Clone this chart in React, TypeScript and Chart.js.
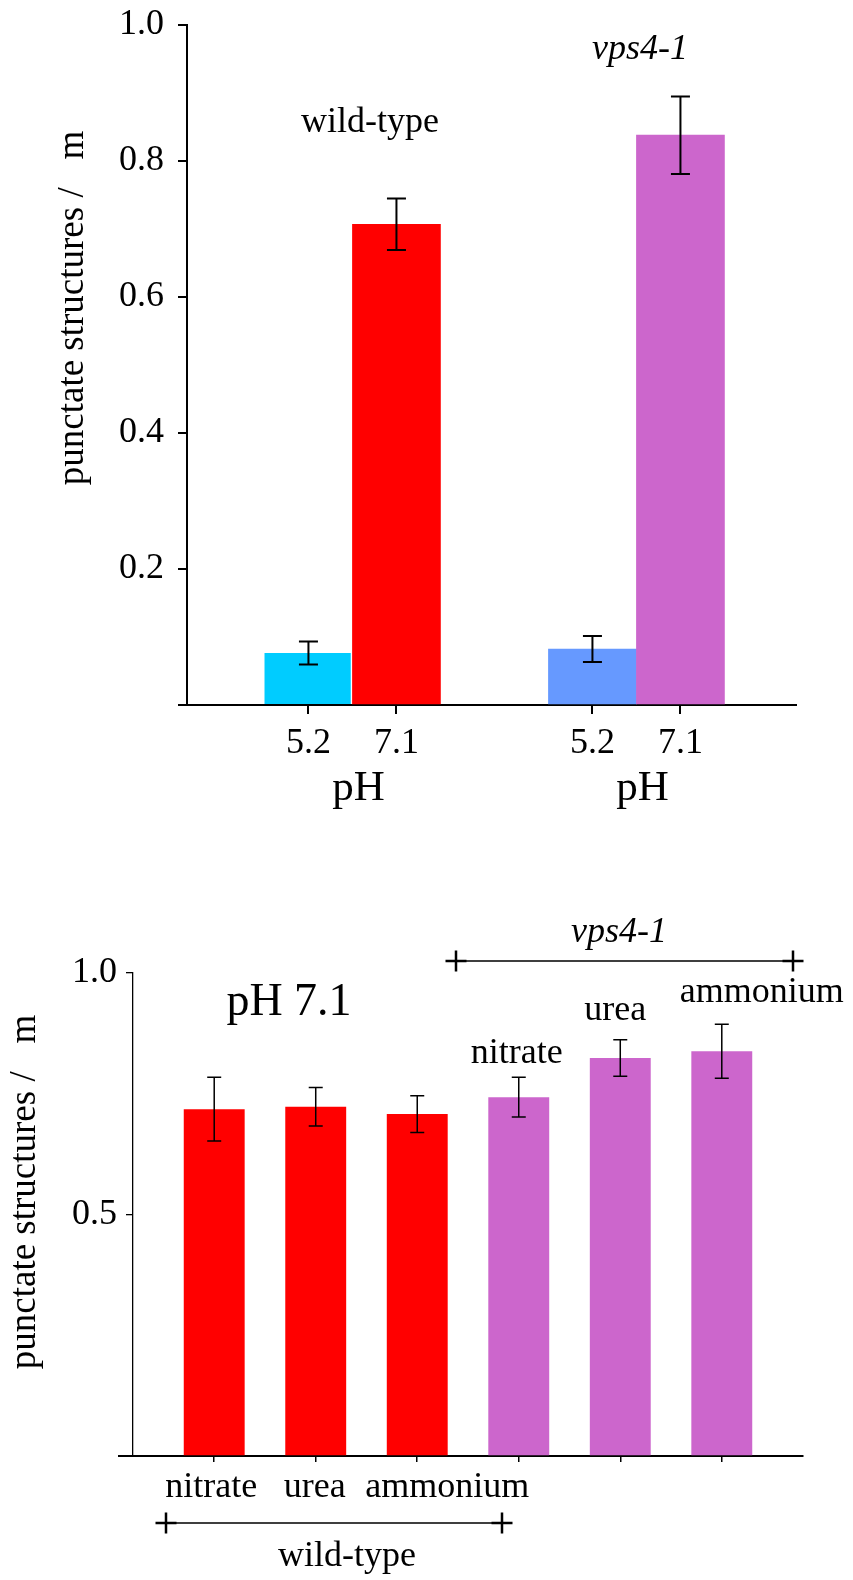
import React, { useEffect, useRef } from 'react';
import { Chart, registerables } from 'chart.js';

Chart.register(...registerables);

const FONT = '"Liberation Serif", "Times New Roman", Times, serif';

// ---------- Top chart data ----------
const topStrains = ['wild-type', 'vps4-1'];
const topPHLabels = ['5.2', '7.1'];
const wildTypeValues = [0.0765, 0.707];
const wildTypeErrors = [0.017, 0.038];
const vps4Values = [0.0824, 0.838];
const vps4Errors = [0.019, 0.057];
const topColors = ['#00CCFF', '#FF0000', '#6699FF', '#CC66CC'];
const topYTicks = [0, 0.2, 0.4, 0.6, 0.8, 1.0];

// ---------- Bottom chart data ----------
const bottomSources = ['nitrate', 'urea', 'ammonium', 'nitrate', 'urea', 'ammonium'];
const bottomStrains = ['wild-type', 'wild-type', 'wild-type', 'vps4-1', 'vps4-1', 'vps4-1'];
const bottomValues = [0.718, 0.723, 0.708, 0.743, 0.824, 0.838];
const bottomErrors = [0.066, 0.04, 0.038, 0.041, 0.038, 0.056];
const bottomYTicks = [0, 0.5, 1.0];

const Y_TITLE = 'punctate structures /   m';

// layout constants (in axis units)
const TOP_GROUP_STEP = 3.227;

function drawText(ctx: CanvasRenderingContext2D, text: string, x: number, y: number, font: string, align: CanvasTextAlign = 'center', rotate = 0) {
  ctx.save();
  ctx.font = font;
  ctx.fillStyle = '#000';
  ctx.textAlign = align;
  ctx.textBaseline = 'alphabetic';
  ctx.translate(x, y);
  if (rotate) ctx.rotate(rotate);
  ctx.fillText(text, 0, 0);
  ctx.restore();
}

function drawPlus(ctx: CanvasRenderingContext2D, x: number, y: number, half: number) {
  ctx.save();
  ctx.strokeStyle = '#000';
  ctx.lineWidth = 2.5;
  ctx.beginPath();
  ctx.moveTo(x - half, y);
  ctx.lineTo(x + half, y);
  ctx.moveTo(x, y - half);
  ctx.lineTo(x, y + half);
  ctx.stroke();
  ctx.restore();
}

function zeroPad(s: any) {
  s.paddingTop = 0;
  s.paddingBottom = 0;
  s.paddingLeft = 0;
  s.paddingRight = 0;
}

function makeErrorPlugin(errors: number[], capHalf: number, lw: number) {
  return {
    id: 'errorBars',
    afterDatasetsDraw(chart: any) {
      const meta = chart.getDatasetMeta(0);
      const ys = chart.scales.y;
      const ctx = chart.ctx as CanvasRenderingContext2D;
      const data = chart.data.datasets[0].data as any[];
      ctx.save();
      ctx.strokeStyle = '#000';
      ctx.lineWidth = lw;
      meta.data.forEach((bar: any, i: number) => {
        const v = data[i].y;
        const hi = ys.getPixelForValue(v + errors[i]);
        const lo = ys.getPixelForValue(v - errors[i]);
        ctx.beginPath();
        ctx.moveTo(bar.x, hi);
        ctx.lineTo(bar.x, lo);
        ctx.moveTo(bar.x - capHalf, hi);
        ctx.lineTo(bar.x + capHalf, hi);
        ctx.moveTo(bar.x - capHalf, lo);
        ctx.lineTo(bar.x + capHalf, lo);
        ctx.stroke();
      });
      ctx.restore();
    },
  };
}

function TopChart() {
  const ref = useRef<HTMLCanvasElement>(null);
  useEffect(() => {
    const groups = [wildTypeValues, vps4Values];
    const points: { x: number; y: number }[] = [];
    groups.forEach((vals, g) => vals.forEach((v, i) => points.push({ x: g * TOP_GROUP_STEP + i, y: v })));
    const errors = [...wildTypeErrors, ...vps4Errors];
    const xs = points.map((p) => p.x);

    const annot = {
      id: 'topAnnot',
      afterDraw(chart: any) {
        const ctx = chart.ctx as CanvasRenderingContext2D;
        const xsScale = chart.scales.x;
        const ys = chart.scales.y;
        drawText(ctx, Y_TITLE, 83, 308, `37px ${FONT}`, 'center', -Math.PI / 2);
        drawText(ctx, topStrains[0], 370, 132, `36px ${FONT}`);
        drawText(ctx, topStrains[1], 640, 59, `italic 36px ${FONT}`);
        [0, 1].forEach((g) => {
          const cx = (xsScale.getPixelForValue(g * TOP_GROUP_STEP) + xsScale.getPixelForValue(g * TOP_GROUP_STEP + 1)) / 2 + 6;
          drawText(ctx, 'pH', cx, ys.bottom + 95, `43px ${FONT}`);
        });
      },
    };

    const chart = new Chart(ref.current!, {
      type: 'bar',
      data: {
        datasets: [
          {
            data: points as any,
            backgroundColor: topColors,
            borderColor: '#FFFFFF',
            borderWidth: [{ right: 2 }, 0, 0, 0] as any,
            borderSkipped: false as any,
            barPercentage: 1,
            categoryPercentage: 1,
          },
        ],
      },
      options: {
        responsive: false,
        animation: false,
        layout: { padding: { left: 0, top: 25, right: 57, bottom: 0 } },
        plugins: { legend: { display: false }, tooltip: { enabled: false } },
        scales: {
          x: {
            type: 'linear',
            offset: false,
            min: -1.38,
            max: 5.54,
            afterBuildTicks: (s: any) => {
              s.ticks = xs.map((v) => ({ value: v }));
            },
            afterFit: (s: any) => {
              s.height = 125;
              zeroPad(s);
            },
            ticks: {
              autoSkip: false,
              maxRotation: 0,
              color: '#000',
              padding: 8,
              font: { family: FONT, size: 36 },
              callback: (_v: any, idx: number) => topPHLabels[idx % 2],
            },
            grid: { offset: false, drawOnChartArea: false, drawTicks: true, tickLength: 9, lineWidth: 2, color: '#000' },
            border: { display: true, color: '#000', width: 2 },
          },
          y: {
            min: 0,
            max: 1,
            afterBuildTicks: (s: any) => {
              s.ticks = topYTicks.map((v) => ({ value: v }));
            },
            afterFit: (s: any) => {
              s.width = 187;
              zeroPad(s);
            },
            ticks: {
              color: '#000',
              padding: 14,
              font: { family: FONT, size: 36 },
              callback: (v: any) => (v === 0 ? '' : Number(v).toFixed(1)),
            },
            grid: { drawOnChartArea: false, drawTicks: true, tickLength: 9, lineWidth: 2, color: '#000' },
            border: { display: true, color: '#000', width: 2 },
          },
        },
      } as any,
      plugins: [makeErrorPlugin(errors, 9.5, 2), annot],
    });
    return () => chart.destroy();
  }, []);
  return <canvas ref={ref} width={853} height={830} style={{ position: 'absolute', left: 0, top: 0 }} />;
}

function BottomChart() {
  const ref = useRef<HTMLCanvasElement>(null);
  useEffect(() => {
    const points = bottomValues.map((v, i) => ({ x: i, y: v }));
    const colors = bottomStrains.map((s) => (s === 'wild-type' ? '#FF0000' : '#CC66CC'));

    const annot = {
      id: 'bottomAnnot',
      afterDraw(chart: any) {
        const ctx = chart.ctx as CanvasRenderingContext2D;
        const xs = chart.scales.x;
        const ys = chart.scales.y;
        const area = chart.chartArea;
        ctx.save();
        ctx.strokeStyle = '#000';
        ctx.lineWidth = 2;
        ctx.beginPath();
        ctx.moveTo(area.left - 15, ys.getPixelForValue(0));
        ctx.lineTo(area.left, ys.getPixelForValue(0));
        ctx.stroke();
        ctx.restore();

        drawText(ctx, Y_TITLE, 35, 362, `37px ${FONT}`, 'center', -Math.PI / 2);
        drawText(ctx, 'pH 7.1', 289, 185, `46px ${FONT}`);

        const px = (i: number) => xs.getPixelForValue(i);
        drawText(ctx, bottomSources[0], px(0) - 3, 667, `36px ${FONT}`);
        drawText(ctx, bottomSources[1], px(1) - 1, 667, `36px ${FONT}`);
        drawText(ctx, bottomSources[2], px(2) + 30, 667, `36px ${FONT}`);
        ctx.save();
        ctx.strokeStyle = '#000';
        ctx.lineWidth = 1.3;
        ctx.beginPath();
        ctx.moveTo(166, 693);
        ctx.lineTo(502, 693);
        ctx.moveTo(456, 131);
        ctx.lineTo(793, 131);
        ctx.stroke();
        ctx.restore();
        drawPlus(ctx, 166, 693, 10.5);
        drawPlus(ctx, 502, 693, 10.5);
        drawText(ctx, bottomStrains[0], 347, 736, `36px ${FONT}`);

        drawText(ctx, bottomSources[3], px(3) - 2, 233, `36px ${FONT}`);
        drawText(ctx, bottomSources[4], px(4) - 5, 190, `36px ${FONT}`);
        drawText(ctx, bottomSources[5], px(5) + 40, 172, `36px ${FONT}`);
        drawPlus(ctx, 456, 131, 10.5);
        drawPlus(ctx, 793, 131, 10.5);
        drawText(ctx, bottomStrains[3], 619, 112, `italic 36px ${FONT}`);
      },
    };

    const chart = new Chart(ref.current!, {
      type: 'bar',
      data: {
        datasets: [
          {
            data: points as any,
            backgroundColor: colors,
            borderWidth: 0,
            barPercentage: 0.6,
            categoryPercentage: 1,
          },
        ],
      },
      options: {
        responsive: false,
        animation: false,
        layout: { padding: { left: 0, top: 143, right: 50, bottom: 0 } },
        plugins: { legend: { display: false }, tooltip: { enabled: false } },
        scales: {
          x: {
            type: 'linear',
            offset: false,
            min: -0.8,
            max: 5.8,
            afterBuildTicks: (s: any) => {
              s.ticks = points.map((p) => ({ value: p.x }));
            },
            afterFit: (s: any) => {
              s.height = 124;
              zeroPad(s);
            },
            ticks: {
              autoSkip: false,
              maxRotation: 0,
              color: '#000',
              font: { family: FONT, size: 36 },
              callback: () => '',
            },
            grid: { offset: false, drawOnChartArea: false, drawTicks: true, tickLength: 6, lineWidth: 1.5, color: '#000' },
            border: { display: true, color: '#000', width: 2 },
          },
          y: {
            min: 0,
            max: 1,
            afterBuildTicks: (s: any) => {
              s.ticks = bottomYTicks.map((v) => ({ value: v }));
            },
            afterFit: (s: any) => {
              s.width = 133;
              zeroPad(s);
            },
            ticks: {
              color: '#000',
              padding: 9,
              font: { family: FONT, size: 36 },
              callback: (v: any) => (v === 0 ? '' : Number(v).toFixed(1)),
            },
            grid: { drawOnChartArea: false, drawTicks: true, tickLength: 7, lineWidth: 1.3, color: '#000' },
            border: { display: true, color: '#000', width: 1.3 },
          },
        },
      } as any,
      plugins: [makeErrorPlugin(bottomErrors, 7, 1.5), annot],
    });
    return () => chart.destroy();
  }, []);
  return <canvas ref={ref} width={853} height={750} style={{ position: 'absolute', left: 0, top: 830 }} />;
}

export default function App() {
  return (
    <div style={{ position: 'absolute', left: 0, top: 0, width: 853, height: 1580, background: '#fff', overflow: 'hidden' }}>
      <TopChart />
      <BottomChart />
    </div>
  );
}
